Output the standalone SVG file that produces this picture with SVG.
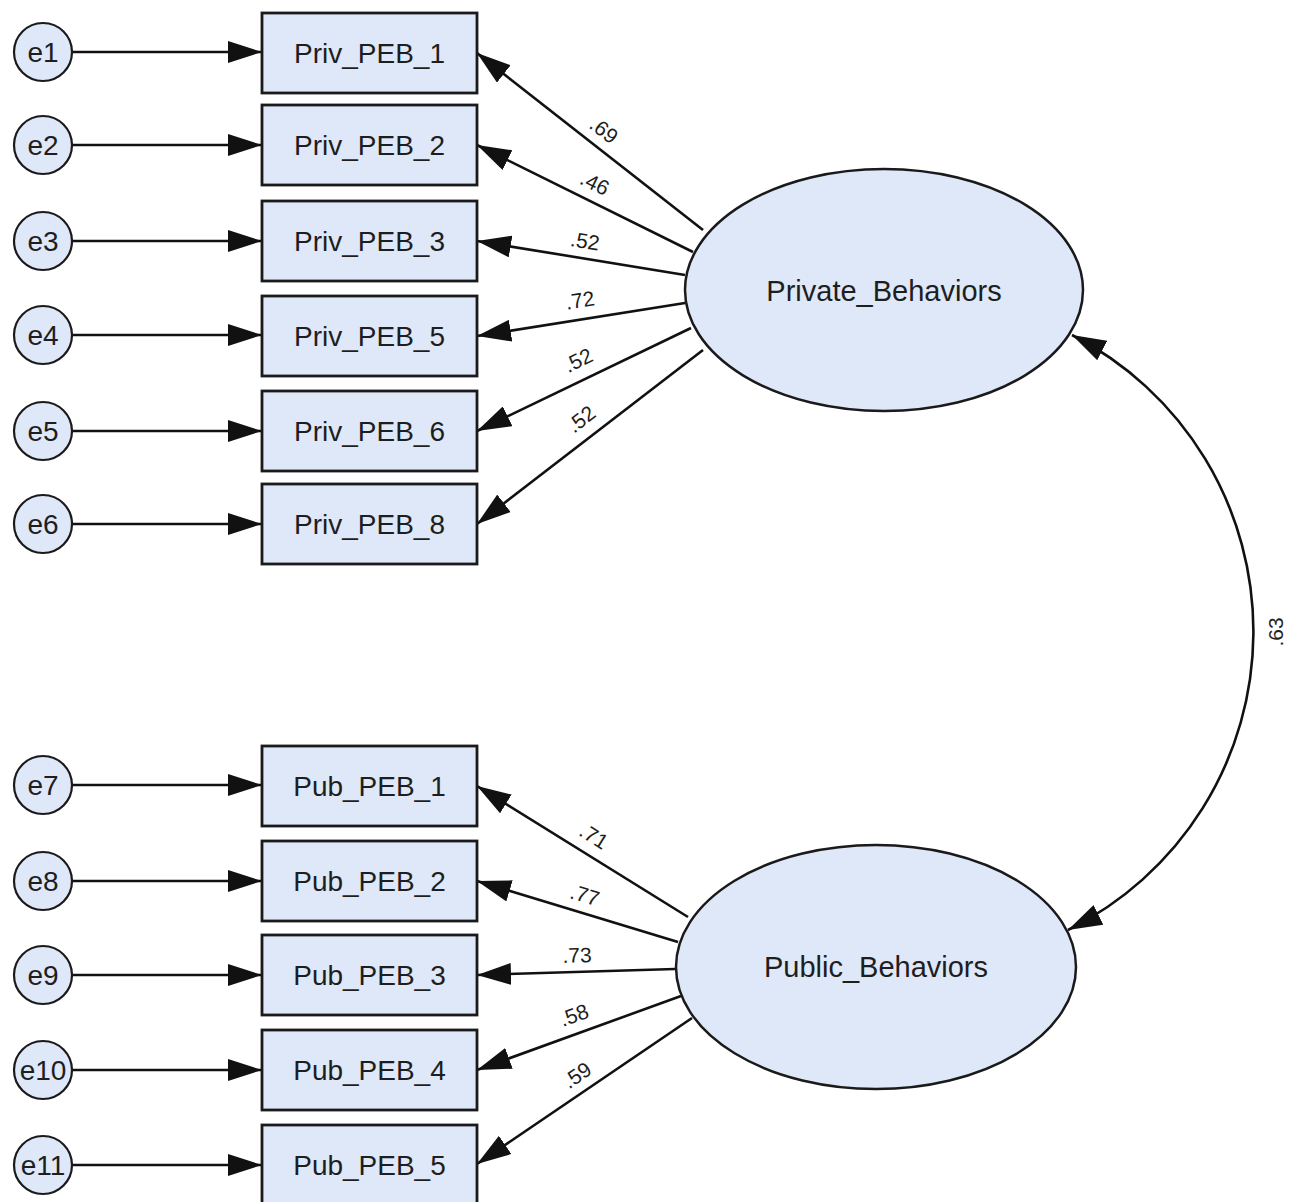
<svg xmlns="http://www.w3.org/2000/svg" width="1295" height="1202" viewBox="0 0 1295 1202">
<style>
.node{fill:#dfe8f8;stroke:#1a1a1a}
.box{stroke-width:2.8}
.circ{stroke-width:2.2}
.ell{stroke-width:2.5}
.lbl{font-family:"Liberation Sans",Arial,sans-serif;font-size:28px;fill:#1e1e1e;text-anchor:middle;dominant-baseline:central}
.big{font-size:29px}
.coef{font-family:"Liberation Sans",Arial,sans-serif;font-size:21px;fill:#1e1e1e;text-anchor:middle;dominant-baseline:central}
.conn{stroke:#111;stroke-width:2.6;fill:none}
</style>
<defs>
<marker id="ah" viewBox="0 0 34 22" refX="34" refY="11" markerWidth="34" markerHeight="22" markerUnits="userSpaceOnUse" orient="auto-start-reverse">
<path d="M0,0 L34,11 L0,22 z" fill="#111"/>
</marker>
</defs>
<rect width="1295" height="1202" fill="#fff"/>
<g id="connectors">
<line class="conn" x1="72" y1="52" x2="262" y2="52" marker-end="url(#ah)"/>
<line class="conn" x1="72" y1="145" x2="262" y2="145" marker-end="url(#ah)"/>
<line class="conn" x1="72" y1="241" x2="262" y2="241" marker-end="url(#ah)"/>
<line class="conn" x1="72" y1="335" x2="262" y2="335" marker-end="url(#ah)"/>
<line class="conn" x1="72" y1="431" x2="262" y2="431" marker-end="url(#ah)"/>
<line class="conn" x1="72" y1="524" x2="262" y2="524" marker-end="url(#ah)"/>
<line class="conn" x1="72" y1="785" x2="262" y2="785" marker-end="url(#ah)"/>
<line class="conn" x1="72" y1="881" x2="262" y2="881" marker-end="url(#ah)"/>
<line class="conn" x1="72" y1="975" x2="262" y2="975" marker-end="url(#ah)"/>
<line class="conn" x1="72" y1="1070" x2="262" y2="1070" marker-end="url(#ah)"/>
<line class="conn" x1="72" y1="1165" x2="262" y2="1165" marker-end="url(#ah)"/>
<line class="conn" x1="703" y1="230" x2="477" y2="53" marker-end="url(#ah)"/>
<line class="conn" x1="693" y1="252" x2="477" y2="145" marker-end="url(#ah)"/>
<line class="conn" x1="685" y1="275" x2="477" y2="241" marker-end="url(#ah)"/>
<line class="conn" x1="685" y1="303" x2="477" y2="336" marker-end="url(#ah)"/>
<line class="conn" x1="691" y1="328" x2="477" y2="431" marker-end="url(#ah)"/>
<line class="conn" x1="703" y1="350" x2="477" y2="524" marker-end="url(#ah)"/>
<line class="conn" x1="688" y1="917" x2="477" y2="786" marker-end="url(#ah)"/>
<line class="conn" x1="678" y1="942" x2="477" y2="881" marker-end="url(#ah)"/>
<line class="conn" x1="675" y1="969" x2="477" y2="975" marker-end="url(#ah)"/>
<line class="conn" x1="681" y1="996" x2="477" y2="1070" marker-end="url(#ah)"/>
<line class="conn" x1="692" y1="1018" x2="477" y2="1164" marker-end="url(#ah)"/>
<path class="conn" d="M1072,335 A333,333 0 0 1 1068,930" marker-start="url(#ah)" marker-end="url(#ah)"/>
<text class="coef" transform="translate(604,130) rotate(38)">.69</text>
<text class="coef" transform="translate(595,183) rotate(26)">.46</text>
<text class="coef" transform="translate(585,241) rotate(9)">.52</text>
<text class="coef" transform="translate(580,300) rotate(-9)">.72</text>
<text class="coef" transform="translate(578,360) rotate(-26)">.52</text>
<text class="coef" transform="translate(581,419) rotate(-38)">.52</text>
<text class="coef" transform="translate(594,836) rotate(32)">.71</text>
<text class="coef" transform="translate(585,895) rotate(17)">.77</text>
<text class="coef" transform="translate(577,955) rotate(-2)">.73</text>
<text class="coef" transform="translate(574,1015) rotate(-20)">.58</text>
<text class="coef" transform="translate(577,1075) rotate(-34)">.59</text>
<text class="coef" transform="translate(1275,632) rotate(-90)">.63</text>
</g>
<g id="e1"><circle class="node circ" cx="43" cy="52" r="29"/><text class="lbl" x="43" y="52">e1</text></g>
<g id="e2"><circle class="node circ" cx="43" cy="145" r="29"/><text class="lbl" x="43" y="145">e2</text></g>
<g id="e3"><circle class="node circ" cx="43" cy="241" r="29"/><text class="lbl" x="43" y="241">e3</text></g>
<g id="e4"><circle class="node circ" cx="43" cy="335" r="29"/><text class="lbl" x="43" y="335">e4</text></g>
<g id="e5"><circle class="node circ" cx="43" cy="431" r="29"/><text class="lbl" x="43" y="431">e5</text></g>
<g id="e6"><circle class="node circ" cx="43" cy="524" r="29"/><text class="lbl" x="43" y="524">e6</text></g>
<g id="e7"><circle class="node circ" cx="43" cy="785" r="29"/><text class="lbl" x="43" y="785">e7</text></g>
<g id="e8"><circle class="node circ" cx="43" cy="881" r="29"/><text class="lbl" x="43" y="881">e8</text></g>
<g id="e9"><circle class="node circ" cx="43" cy="975" r="29"/><text class="lbl" x="43" y="975">e9</text></g>
<g id="e10"><circle class="node circ" cx="43" cy="1070" r="29"/><text class="lbl" x="43" y="1070">e10</text></g>
<g id="e11"><circle class="node circ" cx="43" cy="1165" r="29"/><text class="lbl" x="43" y="1165">e11</text></g>
<g id="Priv_PEB_1"><rect class="node box" x="262" y="13" width="215" height="80"/><text class="lbl" x="369.5" y="53">Priv_PEB_1</text></g>
<g id="Priv_PEB_2"><rect class="node box" x="262" y="105" width="215" height="80"/><text class="lbl" x="369.5" y="145">Priv_PEB_2</text></g>
<g id="Priv_PEB_3"><rect class="node box" x="262" y="201" width="215" height="80"/><text class="lbl" x="369.5" y="241">Priv_PEB_3</text></g>
<g id="Priv_PEB_5"><rect class="node box" x="262" y="296" width="215" height="80"/><text class="lbl" x="369.5" y="336">Priv_PEB_5</text></g>
<g id="Priv_PEB_6"><rect class="node box" x="262" y="391" width="215" height="80"/><text class="lbl" x="369.5" y="431">Priv_PEB_6</text></g>
<g id="Priv_PEB_8"><rect class="node box" x="262" y="484" width="215" height="80"/><text class="lbl" x="369.5" y="524">Priv_PEB_8</text></g>
<g id="Pub_PEB_1"><rect class="node box" x="262" y="746" width="215" height="80"/><text class="lbl" x="369.5" y="786">Pub_PEB_1</text></g>
<g id="Pub_PEB_2"><rect class="node box" x="262" y="841" width="215" height="80"/><text class="lbl" x="369.5" y="881">Pub_PEB_2</text></g>
<g id="Pub_PEB_3"><rect class="node box" x="262" y="935" width="215" height="80"/><text class="lbl" x="369.5" y="975">Pub_PEB_3</text></g>
<g id="Pub_PEB_4"><rect class="node box" x="262" y="1030" width="215" height="80"/><text class="lbl" x="369.5" y="1070">Pub_PEB_4</text></g>
<g id="Pub_PEB_5"><rect class="node box" x="262" y="1125" width="215" height="80"/><text class="lbl" x="369.5" y="1165">Pub_PEB_5</text></g>
<g id="Private_Behaviors"><ellipse class="node ell" cx="884" cy="290" rx="199" ry="121"/><text class="lbl big" x="884" y="291">Private_Behaviors</text></g>
<g id="Public_Behaviors"><ellipse class="node ell" cx="876" cy="967" rx="200" ry="122"/><text class="lbl big" x="876" y="967">Public_Behaviors</text></g>
</svg>
